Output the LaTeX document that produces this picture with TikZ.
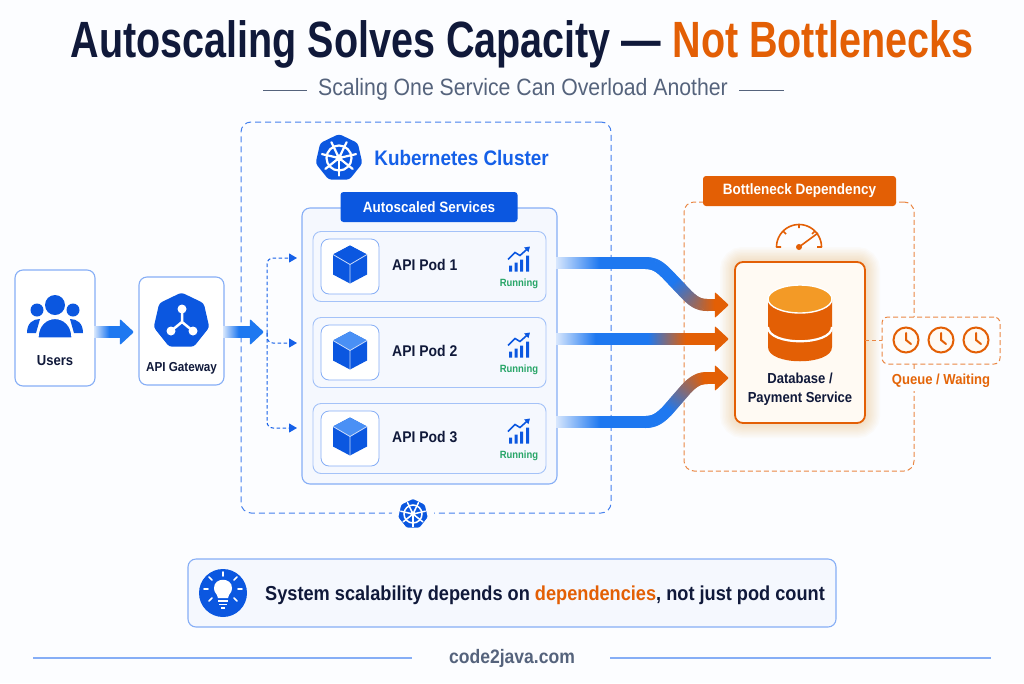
\documentclass[tikz,border=0pt]{standalone}
\usepackage{fontspec}
\usepackage{amsmath}
\usetikzlibrary{shapes.geometric,positioning,arrows.meta,decorations.markings}
\setmainfont{Liberation Sans}[FakeStretch=0.9]
\newfontfamily\titlefont{Liberation Sans}[FakeStretch=0.775]
\newcommand{\fs}[1]{\fontsize{#1}{#1}\selectfont}

\definecolor{page}{HTML}{FCFDFF}
\definecolor{panel}{HTML}{F5F8FE}
\definecolor{navy}{HTML}{10193A}
\definecolor{slate}{HTML}{55637C}
\definecolor{kblue}{HTML}{0B57E0}
\definecolor{ktext}{HTML}{1560E8}
\definecolor{keylight}{HTML}{4A90F5}
\definecolor{edge}{HTML}{86AEF6}
\definecolor{pipeblue}{HTML}{1E78F0}
\definecolor{pipelight}{HTML}{D8E7FD}
\definecolor{rust}{HTML}{E35F05}
\definecolor{amber}{HTML}{F39A26}
\definecolor{cream}{HTML}{FFFAF3}
\definecolor{okgreen}{HTML}{27A567}

% one thin slice of a thick gradient arrow
\newcommand{\pipeslice}[4]{%
  \pgfmathsetmacro\pipet{\pgfkeysvalueof{/pgf/decoration/mark info/distance from start}/\pgfdecoratedpathlength}%
  \pgfmathsetmacro\pipea{min(100,100*\pipet/#2)}%
  \pgfmathsetmacro\pipeb{max(0,min(100,100*(\pipet-#3)/(#4-#3)))}%
  \colorlet{pipecol}{#1!\pipeb!pipeblue!\pipea!pipelight}%
  \fill[pipecol] (-.8pt,-6pt) rectangle (.8pt,6pt);}

\tikzset{
  card/.style={shape=rectangle,draw=edge,fill=white,line width=1.1pt,rounded corners=8pt,outer sep=0pt,inner sep=0pt},
  pod/.style={card,draw=edge!75,fill=panel,line width=.9pt,minimum width=233pt,minimum height=70pt},
  iconbox/.style={card,line width=.8pt,minimum width=58pt,minimum height=55pt},
  tagbox/.style={shape=rectangle,rounded corners=3pt,text=white,font=\bfseries\fs{15},minimum height=30pt,inner sep=0pt},
  clusterframe/.style={shape=rectangle,draw=ktext!80,line width=1pt,dash pattern=on 6pt off 4pt,rounded corners=10pt},
  dashframe/.style={shape=rectangle,draw=rust!75,line width=1pt,dash pattern=on 5pt off 3pt,rounded corners=10pt},
  lbl/.style={text=navy,font=\bfseries\fs{14.5},inner sep=0pt},
  run/.style={text=okgreen,font=\bfseries\fs{10.5},inner sep=0pt},
  hept/.style={shape=regular polygon,regular polygon sides=7,fill=kblue,rounded corners=3pt,inner sep=0pt,outer sep=0pt},
  fan/.style={draw=ktext,line width=1pt,dash pattern=on 3.5pt off 2.5pt,rounded corners=6pt,-{Triangle[length=8pt,width=9pt,fill=ktext]}},
  pipe/.style n args={4}{
    postaction={decorate,decoration={markings,
      mark=between positions 0 and 1 step 1pt with {\pipeslice{#1}{#2}{#3}{#4}}}},
    postaction={decorate,decoration={markings,
      mark=at position .999 with {\fill[#1,rounded corners=1pt] (14pt,0pt) -- (0pt,13pt) -- (0pt,-13pt) -- cycle;}}}},
  pics/wheel/.style={code={
    \draw[white] (0,0) circle (12.5);
    \fill[white] (0,0) circle (3.5);
    \foreach \a in {0,...,6}
      \draw[white,line cap=round,rotate=\a*360/7-90] (0,0) -- (17.5,0);
  }},
  pics/cube/.style={code={
    \fill[kblue] (0,-19) -- (17,-10) -- (17,10) -- (0,19) -- (-17,10) -- (-17,-10) -- cycle;
    \fill[#1] (0,-19) -- (17,-10) -- (0,0) -- (-17,-10) -- cycle;
    \draw[white!80!kblue,line width=.8pt] (-17,-10) -- (0,0) -- (17,-10) (0,0) -- (0,19);
  }},
  pics/chart/.style={code={
    \fill[kblue] (-10,5) rectangle (-7,11) (-4.5,2) rectangle (-1.5,11) (1,-1) rectangle (4,11) (7,-5) rectangle (10,11);
    \draw[kblue,line width=1.6pt,-{Triangle[length=5pt,width=6pt]}] (-11,-1) -- (-4,-8) -- (1,-5) -- (11,-14);
  }},
  pics/clock/.style={code={
    \draw[rust,line width=2pt,fill=cream] (0,0) circle (12.5);
    \draw[rust,line width=2pt,line cap=round] (0,-7) -- (0,0) -- (5,4);
  }},
}

\begin{document}
\begin{tikzpicture}[x=1pt,y=-1pt]
\fill[page] (0,0) rectangle (1024,683);
\useasboundingbox (0,0) rectangle (1024,683);

% heading
\node (title) at (522,44) [inner sep=0pt,font=\titlefont\bfseries\fs{51}] {\textcolor{navy}{Autoscaling Solves Capacity —} \textcolor{rust}{Not Bottlenecks}};
\node (subtitle) at (523,89) [inner sep=0pt,text=slate,font=\fs{23.6}] {Scaling One Service Can Overload Another};
\coordinate (subl) at (263,90);
\coordinate (subr) at (784,90);
\draw[slate,line width=1pt] (subl) -- ([xshift=-11pt]subtitle.west |- subl);
\draw[slate,line width=1pt] ([xshift=11pt]subtitle.east |- subr) -- (subr);

% frames
\node[clusterframe,minimum width=370pt,minimum height=391pt] (cluster) at (426,317.5) {};
\node[dashframe,minimum width=230pt,minimum height=269pt] (bottleneck) at (799,336.5) {};

% cluster head
\node[hept,minimum size=48pt] (bigwheel) at (339,158) {};
\pic[line width=2.2pt] at (bigwheel.center) {wheel};
\node[inner sep=0pt,text=ktext,font=\bfseries\fs{21},right=13pt of bigwheel] (clustername) {Kubernetes Cluster};
\node[hept,draw=page,line width=7pt,minimum size=38pt] (smallwheel) at (413,514) {};
\pic[scale=.72,line width=1.5pt] at (smallwheel.center) {wheel};

% users and gateway
\node[card,minimum width=80pt,minimum height=116pt] (users) at (55,328) {};
\fill[kblue] (27,333) .. controls (27,323) and (33,319) .. (40,319) -- (36,333) -- cycle;
\fill[kblue] (83,333) .. controls (83,323) and (77,319) .. (70,319) -- (74,333) -- cycle;
\fill[kblue] (37,310) circle (6.5) (73,310) circle (6.5) (55,305) circle (10);
\fill[kblue,draw=white,line width=1.2pt] (38,338) .. controls (38,312) and (72,312) .. (72,338) -- cycle;
\node[lbl,below=27pt of users.center] (userstext) {Users};

\node[card,minimum width=85pt,minimum height=108pt] (gateway) at (181.5,331) {};
\node[hept,minimum size=57pt] (gatewayicon) at (181.5,321) {};
\draw[white,line width=2.5pt] (182,310) -- (182,322) -- (171,331) (182,322) -- (193,331);
\fill[white] (182,309) circle (4.5) (171,331) circle (4.5) (193,331) circle (4.5);
\node[lbl,font=\bfseries\fs{13},below=31pt of gateway.center] (gatewaytext) {API Gateway};

% services
\node[card,fill=panel,minimum width=255pt,minimum height=276pt] (services) at (429.5,346) {};
\node[tagbox,fill=kblue,minimum width=177pt] (servicestag) at (429,207) {Autoscaled Services};
\node[pod] (pod1) at (429.5,266.5) {};
\node[pod,below=16pt of pod1] (pod2) {};
\node[pod,below=16pt of pod2] (pod3) {};

\node[iconbox,right=8pt of pod1.west] (box1) {};
\node[iconbox,right=8pt of pod2.west] (box2) {};
\node[iconbox,right=8pt of pod3.west] (box3) {};
\pic at ([yshift=2pt]box1.center) {cube=kblue};
\pic at ([yshift=2pt]box2.center) {cube=keylight};
\pic at ([yshift=2pt]box3.center) {cube=keylight};
\node[lbl,font=\bfseries\fs{15.5},right=13pt of box1,yshift=2pt] (name1) {API Pod 1};
\node[lbl,font=\bfseries\fs{15.5},right=13pt of box2,yshift=2pt] (name2) {API Pod 2};
\node[lbl,font=\bfseries\fs{15.5},right=13pt of box3,yshift=2pt] (name3) {API Pod 3};
\pic at ([xshift=-27pt,yshift=6pt]pod1.east) {chart};
\pic at ([xshift=-27pt,yshift=6pt]pod2.east) {chart};
\pic at ([xshift=-27pt,yshift=6pt]pod3.east) {chart};
\node[run] (run1) at ([xshift=-27pt,yshift=-17pt]pod1.east) {Running};
\node[run] (run2) at ([xshift=-27pt,yshift=-17pt]pod2.east) {Running};
\node[run] (run3) at ([xshift=-27pt,yshift=-17pt]pod3.east) {Running};

% database
\foreach \w in {30,27,...,3}
  \draw[amber,opacity=.028,line width=\w pt,rounded corners=8pt] (735,262) rectangle (865,423);
\node[card,draw=rust,fill=cream,line width=1.8pt,minimum width=130pt,minimum height=161pt] (db) at (800,342.5) {};
\fill[rust] (768,299) -- (768,347) .. controls (768,366) and (832,366) .. (832,347) -- (832,299) -- cycle;
\draw[white,line width=2.2pt] (768,327) .. controls (768,346) and (832,346) .. (832,327);
\fill[amber,draw=white,line width=1.4pt] (800,299) ellipse (32 and 14);
\node[lbl,below=30pt of db.center] (dbtext1) {Database /};
\node[lbl,below=49pt of db.center] (dbtext2) {Payment Service};

% gauge
\draw[rust,line width=1.6pt,line cap=round] plot[domain=180:360,samples=31] ({799+22.5*cos(\x)},{247+22.5*sin(\x)});
\draw[rust,line width=1.6pt] (776.5,247) -- (781,247) (821.5,247) -- (817,247) (799,224.5) -- (799,228) (783,231) -- (786,234);
\draw[rust,line width=1.6pt] (815,231) -- (812,234);
\fill[rust] (799,247) circle (3);
\draw[rust,line width=1.6pt] (799,247) -- (818,233);

% tags and queue
\node[tagbox,fill=rust,minimum width=193pt] (bottlenecktag) at (799.5,191) {Bottleneck Dependency};
\node[shape=rectangle,draw=rust!75,fill=page,line width=1pt,dash pattern=on 5pt off 3pt,rounded corners=6pt,minimum width=118pt,minimum height=47pt,inner sep=0pt] (queue) at (941,340.5) {};
\draw[rust!75,line width=1pt,dash pattern=on 4pt off 3pt] (db.east |- queue.west) -- (queue.west);
\pic at (906,340) {clock};
\pic at (941,340) {clock};
\pic at (976,340) {clock};
\node[fill=page,text=rust!90!amber,font=\bfseries\fs{14.5},inner sep=3pt] (queuetext) at (941,381) {Queue / Waiting};

% connectors
\coordinate (u2g) at (120,332);
\coordinate (g2f) at (250,332);
\path[pipe={pipeblue}{.6}{.8}{1}] (users.east |- u2g) -- (u2g);
\path[pipe={pipeblue}{.6}{.8}{1}] (gateway.east |- g2f) -- (g2f);

\coordinate (fork) at (267,333);
\coordinate (f1) at (297,258);
\coordinate (f2) at (297,343);
\coordinate (f3) at (297,428);
\draw[fan] (fork) |- (f1);
\draw[fan] (fork) |- (f2);
\draw[fan] (fork) |- (f3);

\coordinate (o1) at (services.east |- 0,263);
\coordinate (o2) at (services.east |- 0,339);
\coordinate (o3) at (services.east |- 0,422);
\coordinate (in1) at (715,305);
\coordinate (in2) at (715,339);
\coordinate (in3) at (715,378);
\path[pipe={rust}{.25}{.72}{1}] (o1) -- (645,263) .. controls (655,263) and (660,267) .. (667,274) -- (687,295) .. controls (695,303) and (700,305) .. (708,305) -- (in1);
\path[pipe={rust}{.25}{.58}{.82}] (o2) -- (in2);
\path[pipe={rust}{.25}{.66}{.94}] (o3) -- (645,422) .. controls (655,422) and (660,418) .. (667,411) -- (687,388) .. controls (695,380) and (700,378) .. (708,378) -- (in3);

% note
\node[card,fill=panel,minimum width=648pt,minimum height=68pt] (note) at (512,593) {};
\node[shape=circle,fill=kblue,minimum size=48pt,inner sep=0pt] (noteicon) at (223,593) {};
\fill[white] (218,598) .. controls (217,593) and (214,593) .. (214,588) .. controls (214,577) and (232,577) .. (232,588) .. controls (232,593) and (229,593) .. (228,598) -- cycle;
\draw[white,line width=1.6pt] (218,601) -- (228,601) (219,604.5) -- (227,604.5) (221,608) -- (225,608);
\draw[white,line width=1.6pt,line cap=round] (223,572) -- (223,576) (209,577) -- (212,580) (237,577) -- (234,580) (204,589) -- (208,589) (238,589) -- (242,589) (209,601) -- (212,598) (237,601) -- (234,598);
\node[inner sep=0pt,text=navy,font=\bfseries\fs{20.2},anchor=west] (notetext) at (265,595) {System scalability depends on \textcolor{rust}{dependencies}, not just pod count};

% footer
\node[inner sep=0pt,text=slate,font=\bfseries\fs{19.5}] (footer) at (512,658) {code2java.com};
\coordinate (footl) at (33,658);
\coordinate (footr) at (991,658);
\draw[edge,line width=1.3pt] (footl) -- ([xshift=-37pt]footer.west);
\draw[edge,line width=1.3pt] ([xshift=35pt]footer.east) -- (footr);
\end{tikzpicture}
\end{document}
